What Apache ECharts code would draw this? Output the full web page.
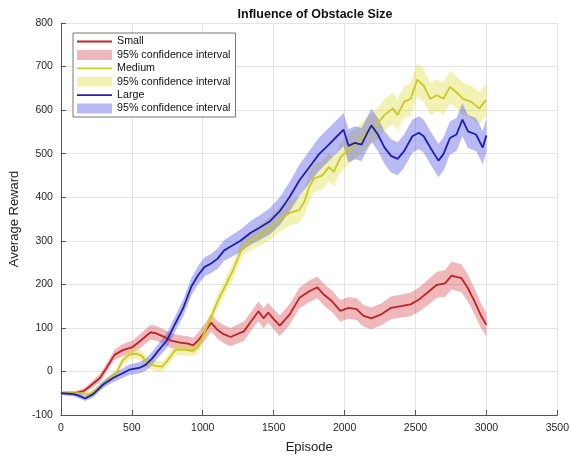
<!DOCTYPE html>
<html><head><meta charset="utf-8">
<script src="https://cdn.jsdelivr.net/npm/echarts@6/dist/echarts.min.js"></script>
<style>html,body{margin:0;padding:0;background:#fff}#c{width:572px;height:459px}</style>
</head><body><div id="c"></div>
<script>
// ---- data ----
const xTicks = [0, 500, 1000, 1500, 2000, 2500, 3000, 3500];
const yTicks = [-100, 0, 100, 200, 300, 400, 500, 600, 700, 800];

const smallEp  = [0,100,160,205,275,321,378,436,505,563,632,667,724,782,840,897,932,967,1013,1059,1105,1151,1197,1244,1290,1336,1393,1428,1462,1500,1543,1613,1682,1751,1808,1855,1912,1970,2028,2085,2131,2189,2258,2327,2397,2466,2524,2581,2651,2708,2754,2824,2870,2916,2962,3000];
const smallVal = [-50,-50,-45,-34,-15,8,38,49,56,71,90,88,80,70,66,64,60,71,90,112,95,85,79,86,92,113,138,122,135,120,105,131,169,184,193,176,161,139,146,143,128,122,131,146,150,154,165,180,199,202,220,214,191,161,128,107];
const smallCI  = [4,5,6,7,9,10,12,14,15,16,17,17,17,17,17,17,17,18,19,20,20,21,21,22,22,22,23,23,23,23,24,24,24,25,25,25,25,25,25,25,25,25,25,26,26,27,28,29,30,31,32,32,31,30,28,27];

const mediumEp  = [0,100,138,205,298,390,436,482,528,574,609,667,713,747,805,863,920,967,1013,1059,1105,1151,1209,1266,1290,1336,1400,1474,1543,1613,1682,1717,1751,1785,1843,1889,1924,1970,2028,2097,2166,2235,2282,2339,2374,2420,2466,2512,2558,2604,2651,2697,2743,2789,2835,2893,2950,2985,3000];
const mediumVal = [-50,-50,-50,-52,-30,-4,26,38,41,35,19,13,11,23,49,50,47,56,90,124,161,191,229,274,289,300,312,329,349,364,371,390,424,443,450,469,458,491,510,529,551,570,589,604,589,619,626,670,656,626,634,626,653,641,626,619,604,619,622];
const mediumCI  = [4,5,5,6,8,10,11,12,12,12,12,12,12,12,13,13,13,14,15,16,17,18,19,20,21,22,24,26,28,29,30,31,32,32,33,33,33,34,34,35,35,36,36,36,36,37,37,38,38,37,37,37,37,37,37,37,37,37,37];

const largeEp  = [0,90,130,171,228,298,367,436,482,552,597,644,690,747,805,863,920,967,1013,1059,1105,1151,1209,1266,1336,1400,1474,1543,1613,1682,1751,1820,1889,1947,1993,2028,2074,2120,2166,2189,2235,2282,2328,2374,2420,2478,2524,2558,2604,2662,2697,2743,2789,2831,2870,2927,2974,3000];
const largeVal = [-50,-52,-56,-62,-52,-30,-15,-4,4,8,15,30,49,71,109,146,195,221,240,248,259,278,289,300,318,330,345,368,401,439,469,499,521,540,555,518,525,521,551,565,544,514,495,488,506,540,548,540,514,484,499,536,544,578,551,544,514,542];
const largeCI  = [4,5,6,6,7,8,10,11,12,13,14,15,16,17,18,19,20,21,22,22,23,24,25,26,27,28,30,32,34,36,37,38,38,38,38,38,38,38,38,38,38,38,38,38,38,38,38,38,38,38,38,38,38,38,38,38,38,38];

const lineColors = { Small: '#bf2227', Medium: '#c9c824', Large: '#1f1fb2' };
const bandColors = { Small: 'rgba(214,70,80,0.38)', Medium: 'rgba(222,222,60,0.38)', Large: 'rgba(70,70,225,0.38)' };

function bandSeries(key, eps, vals, ci) {
  const rows = eps.map((e, i) => [e, vals[i] - ci[i], vals[i] + ci[i]]);
  return {
    name: 'ci' + key, type: 'custom', data: rows, encode: { x: 0, y: [1, 2] },
    itemStyle: { color: bandColors[key] }, silent: true, z: 1, clip: true,
    renderItem: function (params, api) {
      if (params.dataIndex !== 0) return;
      const upper = rows.map(r => api.coord([r[0], r[2]]));
      const lower = rows.map(r => api.coord([r[0], r[1]])).reverse();
      return { type: 'polygon', shape: { points: upper.concat(lower) },
        style: { fill: bandColors[key], stroke: null } };
    }
  };
}
function lineSeries(key, eps, vals) {
  return { name: key, type: 'line', data: eps.map((e, i) => [e, vals[i]]), symbol: 'none', showSymbol: false,
    lineStyle: { color: lineColors[key], width: 1.8 }, itemStyle: { color: lineColors[key] }, z: 3, silent: true };
}

const series = [
  bandSeries('Small', smallEp, smallVal, smallCI),
  bandSeries('Medium', mediumEp, mediumVal, mediumCI),
  bandSeries('Large', largeEp, largeVal, largeCI),
  lineSeries('Small', smallEp, smallVal),
  lineSeries('Medium', mediumEp, mediumVal),
  lineSeries('Large', largeEp, largeVal)
];

const lineIcon = 'path://M0,0 L0,0 M0,4.1 L35,4.1 L35,5.9 L0,5.9 Z M35,10 L35,10';
const font = "'Liberation Sans', Arial, Helvetica, sans-serif";
const chart = echarts.init(document.getElementById('c'), null, { renderer: 'canvas' });
chart.setOption({
  animation: false,
  backgroundColor: '#fff',
  textStyle: { fontFamily: font },
  title: { text: 'Influence of Obstacle Size', left: 310, top: 3, textAlign: 'center',
    textStyle: { fontFamily: font, fontSize: 12.5, fontWeight: 'bold', color: '#111' } },
  grid: { left: 57, right: 9, top: 23, bottom: 36 },
  legend: {
    orient: 'vertical', left: 73, top: 33, selectedMode: false,
    backgroundColor: '#fff', borderColor: '#777', borderWidth: 1,
    padding: [3, 5, 3, 4], itemWidth: 35, itemHeight: 10, itemGap: 2.4,
    textStyle: { fontFamily: font, fontSize: 10.7, lineHeight: 11, color: '#111' },
    formatter: n => n.indexOf('ci') === 0 ? '95% confidence interval' : n,
    data: [
      { name: 'Small', icon: lineIcon, itemStyle: { color: lineColors.Small } },
      { name: 'ciSmall', icon: 'rect', itemStyle: { color: bandColors.Small } },
      { name: 'Medium', icon: lineIcon, itemStyle: { color: lineColors.Medium } },
      { name: 'ciMedium', icon: 'rect', itemStyle: { color: bandColors.Medium } },
      { name: 'Large', icon: lineIcon, itemStyle: { color: lineColors.Large } },
      { name: 'ciLarge', icon: 'rect', itemStyle: { color: bandColors.Large } }
    ]
  },
  xAxis: {
    type: 'value', min: xTicks[0], max: xTicks[xTicks.length - 1], interval: 500,
    name: 'Episode', nameLocation: 'middle', nameGap: 26,
    nameTextStyle: { fontFamily: font, fontSize: 13, color: '#222' },
    axisLine: { show: true, onZero: false, lineStyle: { color: '#555' } },
    axisTick: { show: true, inside: true, length: 5, lineStyle: { color: '#555' } },
    axisLabel: { fontFamily: font, fontSize: 10.5, color: '#262626', margin: 8, formatter: v => String(v) },
    splitLine: { show: true, lineStyle: { color: '#e3e3e3' } }
  },
  yAxis: {
    type: 'value', min: yTicks[0], max: yTicks[yTicks.length - 1], interval: 100,
    name: 'Average Reward', nameLocation: 'middle', nameGap: 28,
    nameTextStyle: { fontFamily: font, fontSize: 13, color: '#222' },
    axisLine: { show: true, onZero: false, lineStyle: { color: '#555' } },
    axisTick: { show: true, inside: true, length: 5, lineStyle: { color: '#555' } },
    axisLabel: { fontFamily: font, fontSize: 10.5, color: '#262626', margin: 8, formatter: v => String(v) },
    splitLine: { show: true, lineStyle: { color: '#e3e3e3' } }
  },
  series: series
});
</script></body></html>
